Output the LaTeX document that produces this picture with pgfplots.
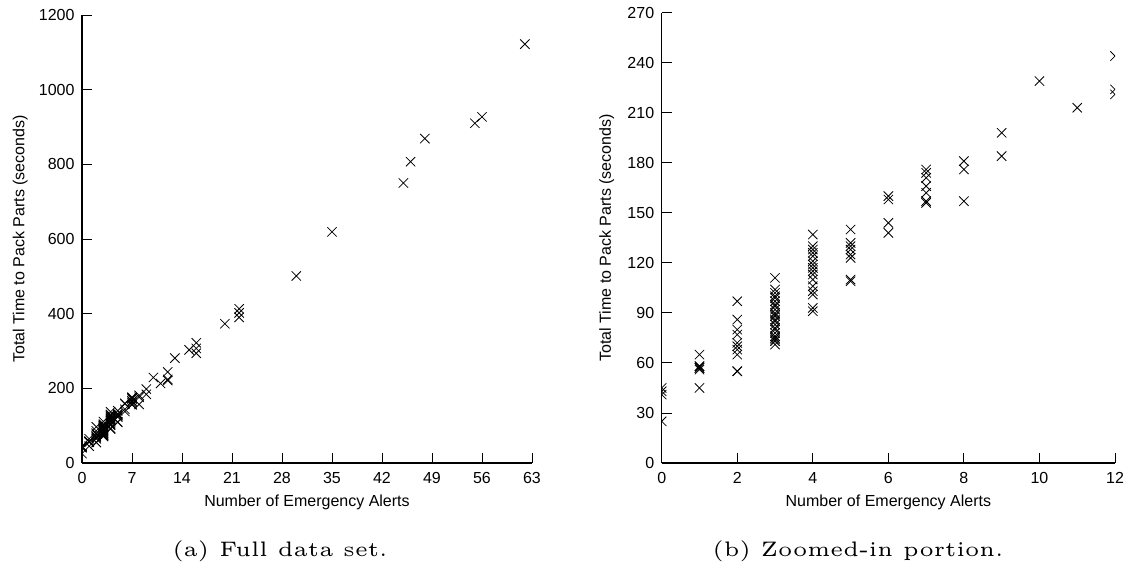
\documentclass[border=0pt]{standalone}
\usepackage{fontspec}
\usepackage{pgfplots}
\usepackage{pgfplotstable}
\pgfplotsset{compat=1.18}
\newfontfamily\lsans{Liberation Sans}
\newfontfamily\capfont{lmroman5-regular.otf}

% number of emergency alerts vs. total time to pack parts (s)
\pgfplotstableread{
n t
0 25
0 41
0 43
0 45
1 45
1 56
1 57
1 57
1 58
1 58
1 65
2 55
2 55
2 65
2 68
2 70
2 72
2 77
2 80
2 86
2 97
3 71
3 73
3 74
3 75
3 76
3 78
3 80
3 81
3 83
3 85
3 86
3 88
3 89
3 90
3 92
3 94
3 95
3 97
3 99
3 100
3 102
3 104
3 111
4 91
4 93
4 101
4 103
4 106
4 110
4 113
4 115
4 117
4 119
4 121
4 124
4 126
4 128
4 130
4 137
5 109
5 110
5 123
5 125
5 128
5 130
5 132
5 140
6 138
6 144
6 158
6 160
7 156
7 157
7 162
7 166
7 171
7 174
7 176
8 157
8 176
8 181
9 184
9 198
10 229
11 213
12 221
12 224
12 244
13 281
15 303
16 294
16 307
16 322
20 373
22 390
22 402
22 413
30 501
35 619
45 750
46 807
48 869
55 910
56 927
62 1122
}\alerts

\pgfplotsset{
  alertsplot/.style={
    scale only axis,
    anchor=south west,
    axis lines=left,
    axis line style={-, line width=1.3bp},
    tick align=inside,
    major tick length=10bp,
    every tick/.style={black, line width=0.9bp},
    /pgf/number format/assume math mode=true,
    /pgf/number format/1000 sep={},
    scaled ticks=false,
    tick label style={font=\lsans\fontsize{16bp}{19bp}\selectfont},
    xticklabel style={anchor=base, yshift=-20.3bp},
    yticklabel style={xshift=-4bp},
    label style={font=\lsans\fontsize{16bp}{19bp}\selectfont},
    xlabel style={at={(axis description cs:0.5,0)}, anchor=base, yshift=-43.5bp},
    xlabel={Number of Emergency Alerts},
    ylabel={Total Time to Pack Parts (seconds)},
    clip marker paths=true,
  },
  alertmarks/.style={only marks, mark=x, mark size=6.6bp, black,
    mark options={line width=0.8bp}},
}

\begin{document}
\begin{tikzpicture}
\path[use as bounding box] (0bp,0bp) rectangle (1130bp,574bp);

% (a) full data set
\begin{axis}[alertsplot,
  at={(82bp,111bp)}, width=450bp, height=448bp,
  xmin=0, xmax=63, ymin=0, ymax=1200,
  xtick={0,7,...,63}, ytick={0,200,...,1200},
  ylabel style={at={(axis description cs:-0.128,0.5)}, anchor=base},
]
\addplot[alertmarks] table[x=n, y=t] {\alerts};
\end{axis}

% (b) zoomed-in portion
\begin{axis}[alertsplot,
  at={(661.7bp,111bp)}, width=453.3bp, height=450.3bp,
  xmin=0, xmax=12, ymin=0, ymax=270,
  xtick={0,2,...,12}, ytick={0,30,...,270},
  ylabel style={at={(axis description cs:-0.112,0.5)}, anchor=base},
]
\addplot[alertmarks] table[x=n, y=t] {\alerts};
\end{axis}

\node[anchor=base, font=\capfont\fontsize{21bp}{25bp}\selectfont]
  at (280bp,18bp) {(a) Full data set.};
\node[anchor=base, font=\capfont\fontsize{21bp}{25bp}\selectfont]
  at (858bp,18bp) {(b) Zoomed-in portion.};
\end{tikzpicture}
\end{document}
